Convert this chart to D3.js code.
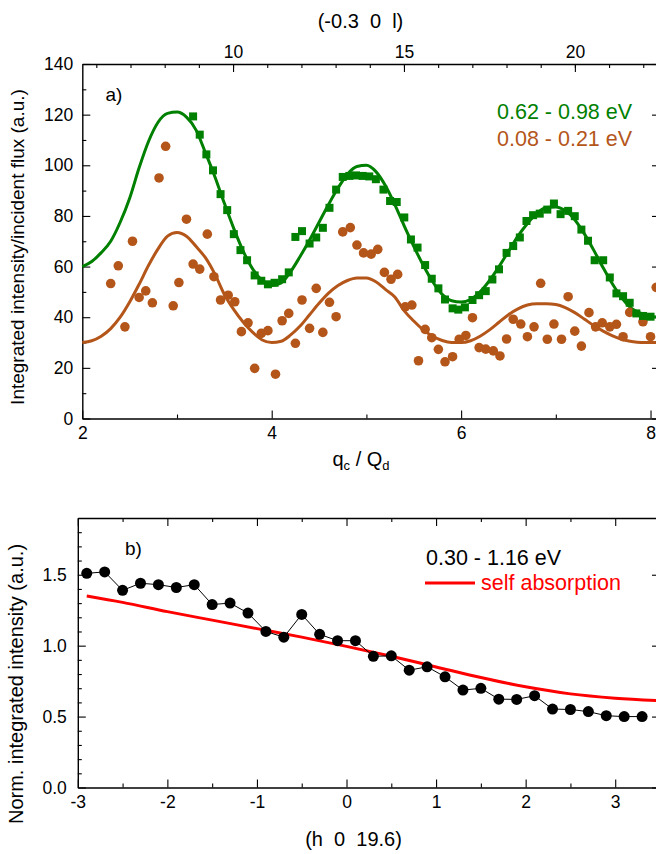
<!DOCTYPE html>
<html>
<head>
<meta charset="utf-8">
<script src="https://cdn.jsdelivr.net/npm/d3@7"></script>
<style>
body { margin: 0; background: #fff; }
svg { display: block; font-family: "Liberation Sans", Arial, sans-serif; }
.axis path, .axis line { stroke: #000; }
.axis path { stroke-width: 1.4; }
.axis line { stroke-width: 1.1; }
.axis text { font-size: 17.5px; fill: #000; font-family: "Liberation Sans", Arial, sans-serif; }
</style>
</head>
<body>
<svg id="chart" width="656" height="854"></svg>
<script>
// ---------- panel a) data ----------
// 0.62 - 0.98 eV (green squares)
var greenQ = [3.17,3.24,3.31,3.38,3.46,3.53,3.60,3.67,3.74,3.82,
  3.89,3.96,4.03,4.11,4.18,4.25,4.32,4.40,4.47,4.54,
  4.61,4.68,4.75,4.82,4.89,4.96,5.03,5.10,5.18,5.25,
  5.32,5.40,5.47,5.54,5.62,5.69,5.76,5.83,5.91,5.97,
  6.04,6.12,6.19,6.26,6.33,6.40,6.48,6.55,6.62,6.69,
  6.76,6.83,6.91,6.98,7.05,7.13,7.20,7.27,7.34,7.41,
  7.50,7.57,7.64,7.71,7.78,7.85,7.92,8.00];
var greenI = [119.3,112.1,104.3,98.0,88.6,82.3,72.8,66.5,62.5,56.5,
  54.4,53.0,53.6,55.0,57.7,71.7,74.0,69.1,71.5,75.3,
  83.2,90.4,95.4,95.8,96.0,95.8,95.6,94.5,90.4,85.9,
  85.5,79.4,70.7,67.5,60.6,55.2,51.4,47.0,43.5,43.0,
  43.9,46.8,48.7,50.3,54.9,58.9,65.4,68.1,71.5,78.0,
  80.3,80.9,82.5,84.9,80.7,82.0,79.9,74.6,70.2,62.5,
  62.5,55.7,49.4,48.3,45.7,41.5,40.5,40.2];

// 0.08 - 0.21 eV (brown circles)
var brownQ = [2.30,2.38,2.45,2.53,2.60,2.67,2.74,2.81,2.88,2.96,
  3.02,3.10,3.17,3.24,3.32,3.39,3.46,3.54,3.61,3.68,
  3.75,3.82,3.89,3.96,4.04,4.11,4.18,4.25,4.32,4.40,
  4.47,4.54,4.61,4.68,4.75,4.83,4.90,4.97,5.05,5.12,
  5.19,5.26,5.33,5.41,5.48,5.55,5.62,5.69,5.76,5.83,
  5.91,5.98,6.05,6.12,6.19,6.26,6.34,6.41,6.48,6.55,
  6.63,6.70,6.77,6.84,6.91,6.98,7.06,7.13,7.20,7.27,
  7.35,7.42,7.49,7.57,7.64,7.71,7.78,7.92,8.00,8.06];
var brownI = [53.3,60.3,36.2,70.0,47.8,50.4,45.7,95.0,107.5,44.5,
  53.7,78.7,61.0,59.0,72.8,56.0,46.8,48.7,46.1,34.3,
  37.8,19.8,33.6,34.7,17.5,38.6,41.5,29.7,46.8,35.6,
  51.4,34.0,45.9,40.2,73.7,75.4,68.5,65.4,64.9,66.8,
  57.7,55.0,56.9,44.1,44.8,22.8,35.2,31.9,27.3,22.4,
  24.4,31.3,32.8,39.8,28.0,27.4,26.7,24.7,31.4,39.2,
  37.3,32.3,36.2,53.4,31.3,37.3,31.3,48.1,34.5,28.6,
  41.8,36.2,37.8,36.2,37.2,32.3,41.9,38.2,32.3,51.8];

// fitted curves
var fitQ = [2.0,2.1,2.2,2.3,2.4,2.5,2.6,2.7,2.8,2.9,
  3.0,3.1,3.2,3.3,3.4,3.5,3.6,3.7,3.8,3.9,
  4.0,4.1,4.2,4.3,4.4,4.5,4.6,4.7,4.8,4.9,
  5.0,5.1,5.2,5.3,5.4,5.5,5.6,5.7,5.8,5.9,
  6.0,6.1,6.2,6.3,6.4,6.5,6.6,6.7,6.8,6.9,
  7.0,7.1,7.2,7.3,7.4,7.5,7.6,7.7,7.8,7.9,
  8.0,8.1];
var greenFit = [60,62,65.5,70,77.5,87,99,109.5,117,120.5,
  121,119,114,105,95.5,85,75,66,59,54.5,
  52.5,53.5,58,64,70.5,77.5,84.5,91,96.5,99.5,
  100,97.5,92,84.5,76,68,60.5,54,49,46.5,
  46,47,50,54.5,60,66,72,77,81,83.3,
  83.5,82,78.5,73,66.5,59.5,53,47.5,43.5,41.5,
  40.3,40];
var brownFit = [30,30.7,32.5,35.5,40,46,53,60.5,67,72,
  73.5,72,68,63.5,57,49,43,38,34,31,
  30,30.5,33,36.5,41,45.5,49.5,52.5,54.5,55.5,
  55.5,54,51,48,42.5,38.5,35,32.5,30.8,30,
  30,30.7,32.5,35,38,41,43.3,44.8,45.3,45.3,
  45,43.8,41.8,39.3,36.7,34.5,32.6,31.2,30.4,30,
  30,30];

var yTicksA = [0,20,40,60,80,100,120,140];
var xTicksA = [2,4,6,8];
var lTicks = [10,15,20];
var legendA = ["0.62 - 0.98 eV", "0.08 - 0.21 eV"];

// ---------- panel b) data ----------
var hB = [-2.9,-2.7,-2.5,-2.3,-2.1,-1.9,-1.7,-1.5,-1.3,-1.1,
  -0.9,-0.7,-0.5,-0.3,-0.1,0.1,0.3,0.5,0.7,0.9,
  1.1,1.3,1.5,1.7,1.9,2.1,2.3,2.5,2.7,2.9,
  3.1,3.3];
var normB = [1.51,1.52,1.39,1.44,1.43,1.41,1.43,1.29,1.30,1.23,
  1.10,1.06,1.22,1.08,1.035,1.035,0.925,0.928,0.827,0.851,
  0.780,0.687,0.699,0.623,0.621,0.647,0.553,0.550,0.535,0.506,
  0.500,0.500];
var absH = [-2.9,-2.5,-2.0,-1.5,-1.0,-0.5,0,0.5,1.0,1.5,2.0,2.5,3.0,3.5];
var absN = [1.35,1.305,1.24,1.18,1.12,1.06,0.995,0.925,0.85,0.775,0.71,0.66,0.63,0.612];

var yTicksB = [0,0.5,1.0,1.5];
var xTicksB = [-3,-2,-1,0,1,2,3];
var legendB = ["0.30 - 1.16 eV", "self absorption"];

var green = "#008000", brown = "#b4561a", red = "#ff0000";

var svg = d3.select("#chart");

// ---------- scales ----------
var xa = d3.scaleLinear().domain([2, 8.1]).range([82.3, 660]);
var la = d3.scaleLinear().domain([5.59, 22.49]).range([82.3, 660]);
var ya = d3.scaleLinear().domain([0, 140]).range([418.5, 64]);

var xb = d3.scaleLinear().domain([-3, 3.5]).range([77.8, 660]);
var yb = d3.scaleLinear().domain([0, 1.9]).range([787.5, 518]);

// draw one axis with major ticks (labelled or not) and minor ticks
function axis(gen, scale, pos, major, minor, labels, fmt, pad) {
  var g = svg.append("g").attr("class", "axis").attr("transform", pos);
  g.call(gen(scale).tickValues(minor).tickSize(-4).tickSizeOuter(0).tickFormat(""));
  g.select(".domain").remove();
  var m = svg.append("g").attr("class", "axis").attr("transform", pos);
  m.call(gen(scale).tickValues(major).tickSize(-8).tickSizeOuter(0)
    .tickPadding(pad || 8).tickFormat(labels ? fmt : ""));
  return m;
}

// ---------- panel a axes ----------
var fmtInt = function(d) { return String(d); };
axis(d3.axisBottom, xa, "translate(0,418.5)", xTicksA, d3.range(3, 8, 2), true, fmtInt, 8);
axis(d3.axisTop, la, "translate(0,64)", lTicks, d3.range(6, 23, 1), true, fmtInt, 6);
axis(d3.axisLeft, ya, "translate(82.3,0)", yTicksA, d3.range(10, 140, 20), true, fmtInt, 9);
axis(d3.axisRight, ya, "translate(660,0)", yTicksA, d3.range(10, 140, 20), false);

// ---------- panel b axes ----------
var minorYB = d3.range(1, 19).filter(function(i) { return i % 5; }).map(function(i) { return i / 10; });
axis(d3.axisBottom, xb, "translate(0,787.5)", xTicksB, d3.range(-2.5, 3.5, 1), true, fmtInt, 8);
axis(d3.axisTop, xb, "translate(0,518)", xTicksB, d3.range(-2.5, 3.5, 1), false);
axis(d3.axisLeft, yb, "translate(77.8,0)", yTicksB, minorYB, true, d3.format(".1f"), 11);
axis(d3.axisRight, yb, "translate(660,0)", yTicksB, minorYB, false);

// ---------- panel a marks ----------
var lineA = d3.line().curve(d3.curveMonotoneX)
  .x(function(d, i) { return xa(fitQ[i]); })
  .y(function(d) { return ya(d); });

svg.append("path").datum(greenFit).attr("d", lineA)
  .attr("fill", "none").attr("stroke", green).attr("stroke-width", 3);
svg.append("path").datum(brownFit).attr("d", lineA)
  .attr("fill", "none").attr("stroke", brown).attr("stroke-width", 3);

svg.append("g").selectAll("circle").data(brownQ).join("circle")
  .attr("cx", function(d) { return xa(d); })
  .attr("cy", function(d, i) { return ya(brownI[i]); })
  .attr("r", 4.8).attr("fill", brown);

svg.append("g").selectAll("rect").data(greenQ).join("rect")
  .attr("x", function(d) { return xa(d) - 4; })
  .attr("y", function(d, i) { return ya(greenI[i]) - 4; })
  .attr("width", 8).attr("height", 8).attr("fill", green);

svg.append("g").selectAll("text").data(legendA).join("text")
  .attr("x", 497).attr("y", function(d, i) { return 119 + i * 26.5; })
  .attr("fill", function(d, i) { return i ? brown : green; })
  .style("font-size", "21.5px").text(function(d) { return d; });

svg.append("text").attr("x", 105.5).attr("y", 101).style("font-size", "19px").text("a)");

// axis titles panel a
svg.append("text").attr("x", 360.5).attr("y", 28).attr("text-anchor", "middle")
  .style("font-size", "20px").style("white-space", "pre").text("(-0.3  0  l)");

var qt = svg.append("text").attr("x", 361).attr("y", 466).attr("text-anchor", "middle")
  .style("font-size", "20px");
qt.append("tspan").text("q");
qt.append("tspan").attr("dy", 4).style("font-size", "13px").text("c");
qt.append("tspan").attr("dy", -4).text(" / Q");
qt.append("tspan").attr("dy", 4).style("font-size", "13px").text("d");

svg.append("text").attr("transform", "translate(24,247) rotate(-90)")
  .attr("text-anchor", "middle").style("font-size", "19px")
  .text("Integrated intensity/incident flux (a.u.)");

// ---------- panel b marks ----------
svg.append("path").datum(absN)
  .attr("d", d3.line().curve(d3.curveMonotoneX)
    .x(function(d, i) { return xb(absH[i]); })
    .y(function(d) { return yb(d); }))
  .attr("fill", "none").attr("stroke", red).attr("stroke-width", 3);

svg.append("path").datum(normB)
  .attr("d", d3.line()
    .x(function(d, i) { return xb(hB[i]); })
    .y(function(d) { return yb(d); }))
  .attr("fill", "none").attr("stroke", "#000").attr("stroke-width", 1);

svg.append("g").selectAll("circle").data(normB).join("circle")
  .attr("cx", function(d, i) { return xb(hB[i]); })
  .attr("cy", function(d) { return yb(d); })
  .attr("r", 5.5).attr("fill", "#000");

svg.append("text").attr("x", 426).attr("y", 565).style("font-size", "21.5px").text(legendB[0]);
svg.append("line").attr("x1", 425).attr("x2", 475).attr("y1", 583).attr("y2", 583)
  .attr("stroke", red).attr("stroke-width", 3);
svg.append("text").attr("x", 481).attr("y", 590).attr("fill", red)
  .style("font-size", "21.5px").text(legendB[1]);

svg.append("text").attr("x", 125).attr("y", 555).style("font-size", "19px").text("b)");

svg.append("text").attr("x", 353.5).attr("y", 846).attr("text-anchor", "middle")
  .style("font-size", "20px").style("white-space", "pre").text("(h  0  19.6)");

svg.append("text").attr("transform", "translate(23,684) rotate(-90)")
  .attr("text-anchor", "middle").style("font-size", "20px")
  .text("Norm. integrated intensity (a.u.)");
</script>
</body>
</html>
